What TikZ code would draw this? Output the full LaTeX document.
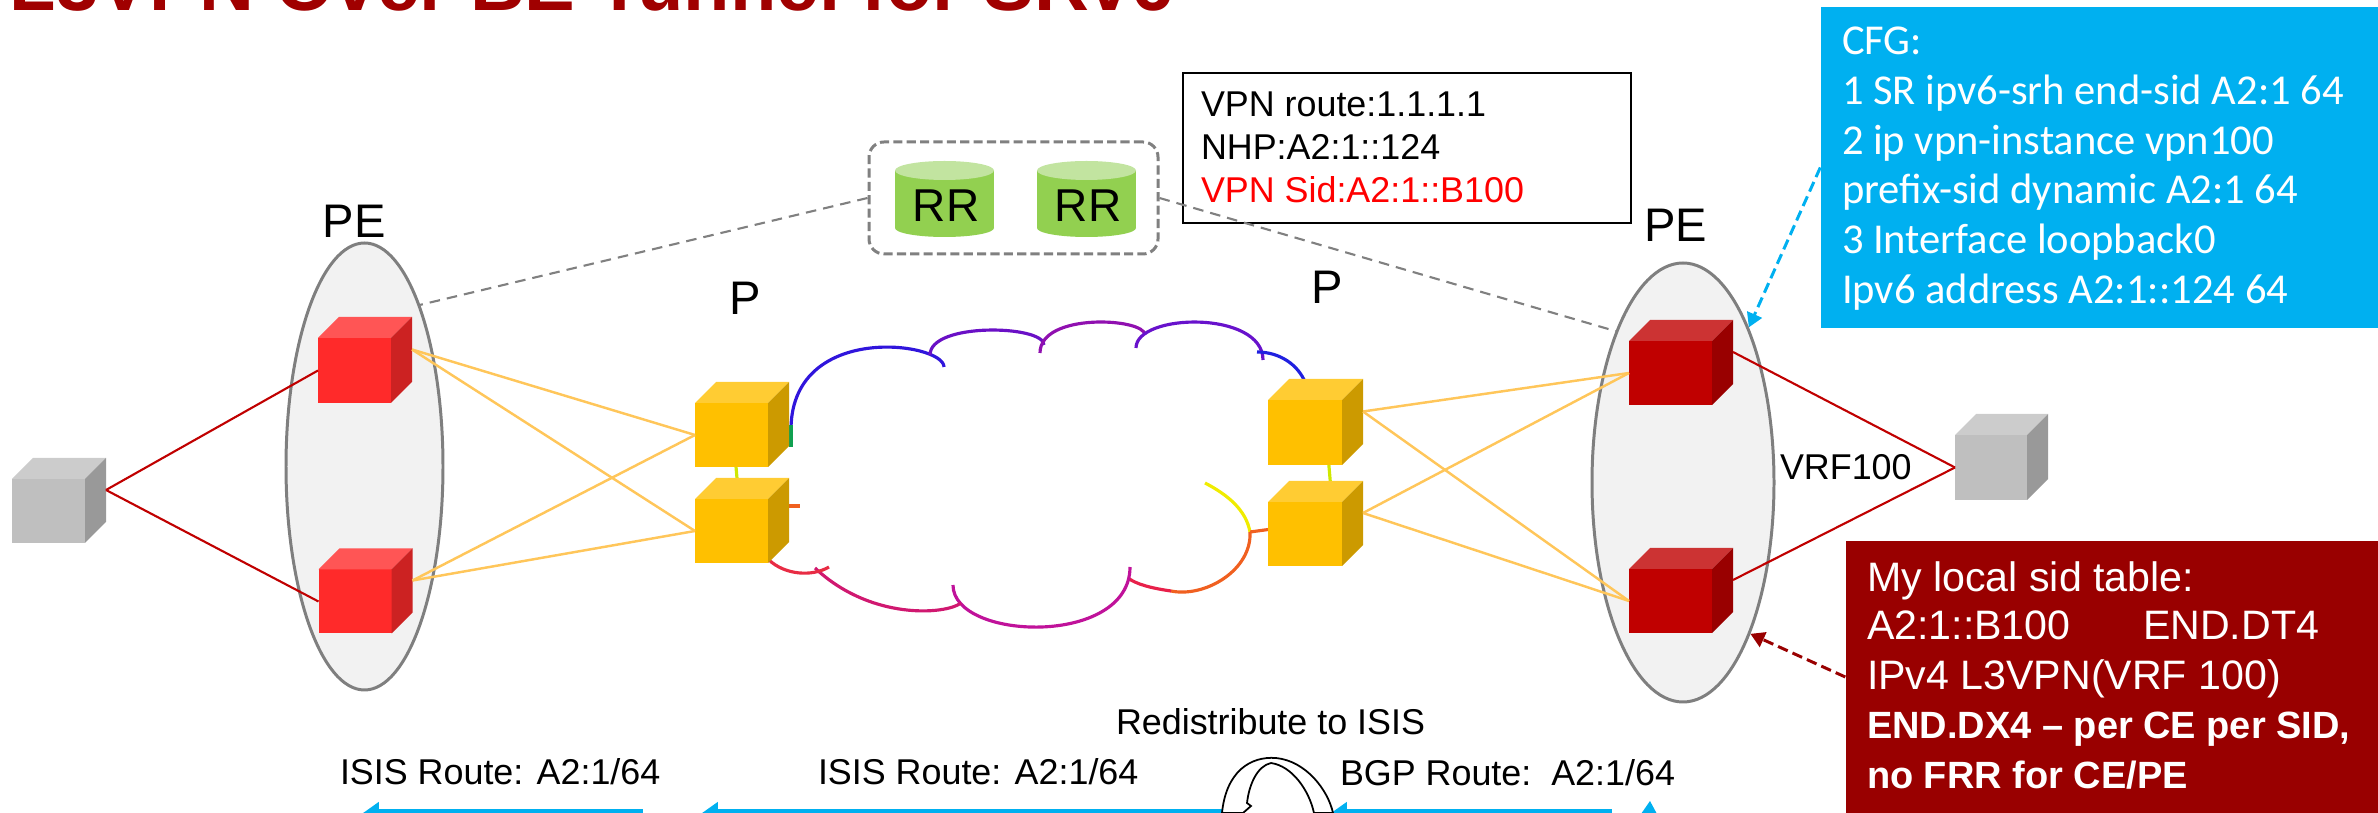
\documentclass[tikz,border=0pt]{standalone}
\usepackage{fontspec}
\setmainfont{Liberation Sans}
\newfontfamily\cfgfont{Carlito}
\usetikzlibrary{arrows.meta,shapes.geometric}
\definecolor{titlered}{HTML}{A00000}
\definecolor{sidred}{HTML}{990000}
\definecolor{cfgblue}{HTML}{00B0F0}
\definecolor{pefill}{HTML}{F2F2F2}
\definecolor{pedraw}{HTML}{7F7F7F}
\definecolor{dashgray}{HTML}{808080}
\definecolor{linered}{HTML}{C00000}
\definecolor{linkorange}{HTML}{FFC65A}
\definecolor{rrbody}{HTML}{92D050}
\definecolor{rrtop}{HTML}{C2E4A0}
\definecolor{redLF}{HTML}{FF2A2A}\definecolor{redLT}{HTML}{FF5555}\definecolor{redLS}{HTML}{CC2222}
\definecolor{redRF}{HTML}{C00000}\definecolor{redRT}{HTML}{CC3333}\definecolor{redRS}{HTML}{990000}
\definecolor{yelF}{HTML}{FFC000}\definecolor{yelT}{HTML}{FFCC33}\definecolor{yelS}{HTML}{CC9A00}
\definecolor{gryF}{HTML}{BFBFBF}\definecolor{gryT}{HTML}{CCCCCC}\definecolor{gryS}{HTML}{999999}
\definecolor{clA}{HTML}{3015DC}\definecolor{clB}{HTML}{6A10C6}\definecolor{clC}{HTML}{9010B0}
\definecolor{clD}{HTML}{6812CC}\definecolor{clE}{HTML}{2020E0}\definecolor{clY}{HTML}{F0EC00}
\definecolor{clO}{HTML}{F06020}\definecolor{clR}{HTML}{E8204A}\definecolor{clM}{HTML}{C0129A}
\definecolor{clN}{HTML}{D01870}\definecolor{clQ}{HTML}{E82C44}\definecolor{clG}{HTML}{10A050}
\definecolor{clX}{HTML}{D0E800}
\newcommand\setfs[1]{\fontsize{#1}{#1}\selectfont}
% cube: name, x, y (front centre), width, height, colour prefix
\newcommand\mkcube[6]{%
  \node[cubeface, fill=#6F, minimum width={#4*0.01cm}, minimum height={#5*0.01cm}] (#1) at (#2,#3) {};
  \fill[#6T] (#1.north west) -- ++(21,-21) -- ++(#4,0) -- (#1.north east) -- cycle;
  \fill[#6S] (#1.north east) -- ++(21,-21) -- ++(0,#5) -- (#1.south east) -- cycle;
  \path (#1.east) ++(21,-21) coordinate (#1-br);
}
\begin{document}
\begin{tikzpicture}[x=0.01cm,y=-0.01cm,
  txt/.style={inner sep=0pt, outer sep=0pt, anchor=base west},
  ctxt/.style={inner sep=0pt, outer sep=0pt, anchor=base},
  cubeface/.style={rectangle, inner sep=0pt, outer sep=0pt, draw=none},
  peell/.style={ellipse, draw=pedraw, fill=pefill, line width=0.85pt, inner sep=0pt},
  gdash/.style={draw=dashgray, line width=0.6pt, dash pattern=on 3pt off 2pt},
  dred/.style={draw=linered, line width=0.6pt},
  ylink/.style={draw=linkorange, line width=0.7pt},
  barrow/.style={draw=cfgblue, line width=2.3pt, -{Triangle[length=4.5pt,width=6pt]}},
  cloudline/.style={line width=0.9pt}]
\useasboundingbox (0,0) rectangle (2378,813);

% title (cut by top edge)
\node[txt, font={\bfseries\setfs{21.6pt}}, text=titlered] (title) at (10,11) {L3VPN Over BE Tunnel for SRv6};

% PE ellipses
\node[peell, minimum width={157*0.01cm}, minimum height={447*0.01cm}] (peL) at (364.5,466.5) {};
\node[peell, minimum width={182*0.01cm}, minimum height={439*0.01cm}] (peR) at (1683,482.5) {};
\node[ctxt, font=\setfs{13.4pt}] (peLlab) at (354,238) {PE};
\node[ctxt, font=\setfs{13.4pt}] (peRlab) at (1675.5,242) {PE};
\node[ctxt, font=\setfs{13.4pt}] (pLlab) at (745,315) {P};
\node[ctxt, font=\setfs{13.4pt}] (pRlab) at (1327.5,304) {P};

% RR group
\node[draw=dashgray, line width=0.85pt, dash pattern=on 2.6pt off 1.2pt, rounded corners=0.15cm,
      minimum width={289*0.01cm}, minimum height={112*0.01cm}, inner sep=0pt] (rrbox) at (1013.5,198) {};
\fill[rrbody] (895,170.5) rectangle (994,228);
\fill[rrbody] (944.5,228) ellipse [x radius=49.5, y radius=9];
\fill[rrtop] (944.5,170.5) ellipse [x radius=49.5, y radius=9.5];
\fill[rrbody] (1037,170.5) rectangle (1136,228);
\fill[rrbody] (1086.5,228) ellipse [x radius=49.5, y radius=9];
\fill[rrtop] (1086.5,170.5) ellipse [x radius=49.5, y radius=9.5];
\node[ctxt, font=\setfs{13.1pt}] (rr1) at (946,222) {RR};
\node[ctxt, font=\setfs{13.1pt}] (rr2) at (1088,222) {RR};

% VPN route box
\node[draw=black, fill=white, line width=0.6pt, inner sep=0pt,
      minimum width={448*0.01cm}, minimum height={150*0.01cm}] (vpnbox) at (1407,148) {};
\node[txt, font=\setfs{10.2pt}] (vpn1) at (1201,117) {VPN route:1.1.1.1};
\node[txt, font=\setfs{10.2pt}] (vpn2) at (1201,160) {NHP:A2:1::124};
\node[txt, font=\setfs{10.2pt}, text=red] (vpn3) at (1201,203) {VPN Sid:A2:1::B100};

% dashed BGP sessions
\draw[gdash] (rrbox.west) -- (peL.71);
\draw[gdash] (rrbox.east) -- (peR.114);

% cloud
\begin{scope}[cloudline]
\draw[clA] (791,432) .. controls (789,321) and (944,342) .. (944,367);
\draw[clB] (930,355) .. controls (930,322) and (1044,325) .. (1044,345);
\draw[clC] (1040,353) .. controls (1040,312) and (1145,318) .. (1145,335);
\draw[clD] (1136,348) .. controls (1136,313) and (1263,310) .. (1263,360);
\draw[clE] (1257,352) .. controls (1280,352) and (1298,365) .. (1305,382);
\draw[clY] (1205,483) .. controls (1228,495) and (1246,510) .. (1250,532);
\draw[clO] (1250,532) .. controls (1252,570) and (1205,598) .. (1171,591);
\draw[clR] (1171,591) .. controls (1150,588) and (1136,584) .. (1128,578);
\draw[clO] (1250,532) -- (1272,529);
\draw[clM] (1130,567) .. controls (1130,647) and (953,641) .. (953,585);
\draw[clN] (961,603) .. controls (945,615) and (870,620) .. (815,568);
\draw[clQ] (829,567) .. controls (812,577) and (785,575) .. (769,560);
\draw[clG] (791,447) -- (791,425);
\draw[clX] (735,455) -- (738,490);
\draw[clO] (785,506) -- (800,506);
\draw[clX] (1328,455) -- (1331,490);
\end{scope}

% devices
\mkcube{ceL}{48.5}{511}{73}{64}{gry}
\mkcube{peL1}{354.5}{370.5}{73}{65}{redL}
\mkcube{peL2}{355}{601.5}{73}{64}{redL}
\mkcube{pL1}{731.5}{435}{73}{64}{yel}
\mkcube{pL2}{731.5}{531}{73}{64}{yel}
\mkcube{pR1}{1305}{432.5}{74}{65}{yel}
\mkcube{pR2}{1305}{534}{74}{64}{yel}
\mkcube{peR1}{1670.5}{373}{83}{64}{redR}
\mkcube{peR2}{1670.5}{601}{83}{64}{redR}
\mkcube{ceR}{1991}{467.5}{72}{65}{gry}

% links
\draw[dred] (ceL-br) -- (peL1.west);
\draw[dred] (ceL-br) -- (peL2.west);
\draw[ylink] (peL1-br) -- (pL1.west);
\draw[ylink] (peL1-br) -- (pL2.west);
\draw[ylink] (peL2-br) -- (pL1.west);
\draw[ylink] (peL2-br) -- (pL2.west);
\draw[ylink] (pR1-br) -- (peR1.west);
\draw[ylink] (pR1-br) -- (peR2.west);
\draw[ylink] (pR2-br) -- (peR1.west);
\draw[ylink] (pR2-br) -- (peR2.west);
\draw[dred] (peR1-br) -- (ceR.west);
\draw[dred] (peR2-br) -- (ceR.west);
\node[txt, font=\setfs{10.2pt}] (vrf) at (1780,480) {VRF100};

% CFG box
\node[fill=cfgblue, inner sep=0pt, minimum width={557*0.01cm}, minimum height={321*0.01cm}] (cfg) at (2099.5,167.5) {};
\begin{scope}[every node/.style={txt, font={\cfgfont\setfs{12.1pt}}, text=white}]
\node (cfg1) at (1842,55) {CFG:};
\node (cfg2) at (1842,105) {1 SR ipv6-srh end-sid A2:1 64};
\node (cfg3) at (1842,155) {2 ip vpn-instance vpn100};
\node (cfg4) at (1842,204) {prefix-sid dynamic A2:1 64};
\node (cfg5) at (1842,254) {3 Interface loopback0};
\node (cfg6) at (1842,304) {Ipv6 address A2:1::124 64};
\end{scope}
\draw[draw=cfgblue, line width=0.85pt, dash pattern=on 3pt off 1.5pt, -{Triangle[length=4pt,width=4.5pt]}] (cfg.west) -- (peR.67);

% local SID table box
\node[fill=sidred, inner sep=0pt, minimum width={540*0.01cm}, minimum height={272*0.01cm}] (sidbox) at (2116,677) {};
\begin{scope}[every node/.style={txt, font=\setfs{11.7pt}, text=white}]
\node (sid1) at (1867,592) {My local sid table:};
\node (sid2a) at (1867,640) {A2:1::B100};
\node (sid2b) at (2143,640) {END.DT4};
\node (sid3) at (1867,690) {IPv4 L3VPN(VRF 100)};
\node[font={\bfseries\setfs{10.8pt}}] (sid4) at (1867,739) {END.DX4 -- per CE per SID,};
\node[font={\bfseries\setfs{10.8pt}}] (sid5) at (1867,789) {no FRR for CE/PE};
\end{scope}
\draw[draw=sidred, line width=0.85pt, dash pattern=on 3pt off 1.5pt, -{Triangle[length=4pt,width=4.5pt]}] (sidbox.west) -- (peR.-66);

% bottom route propagation
\node[txt, font=\setfs{10.2pt}] (redis) at (1116,735) {Redistribute to ISIS};
\node[txt, font=\setfs{10.2pt}] (isis1) at (340,785) {ISIS Route: A2:1/64};
\node[txt, font=\setfs{10.2pt}] (isis2) at (818,785) {ISIS Route: A2:1/64};
\node[txt, font=\setfs{10.2pt}] (bgp) at (1340,786) {BGP Route:~~A2:1/64};
\coordinate (a1s) at (643,813); \coordinate (a1e) at (363,813);
\coordinate (a2s) at (1226,813); \coordinate (a2e) at (702,813);
\coordinate (a3s) at (1612,813); \coordinate (a3e) at (1331,813);
\draw[barrow] (a1s) -- (a1e);
\draw[barrow] (a2s) -- (a2e);
\draw[barrow] (a3s) -- (a3e);
\fill[cfgblue] (1641,814) -- (1650,801) -- (1657,814) -- cycle;
\draw[fill=white, line width=0.5pt] (1222,813) .. controls (1226,772) and (1250,756) .. (1276,758)
  .. controls (1306,761) and (1328,790) .. (1333,813) -- (1314,813)
  .. controls (1309,790) and (1292,766) .. (1271,763)
  .. controls (1257,766) and (1249,785) .. (1247,803) -- (1251,806) -- (1243,813) -- cycle;
\end{tikzpicture}
\end{document}
